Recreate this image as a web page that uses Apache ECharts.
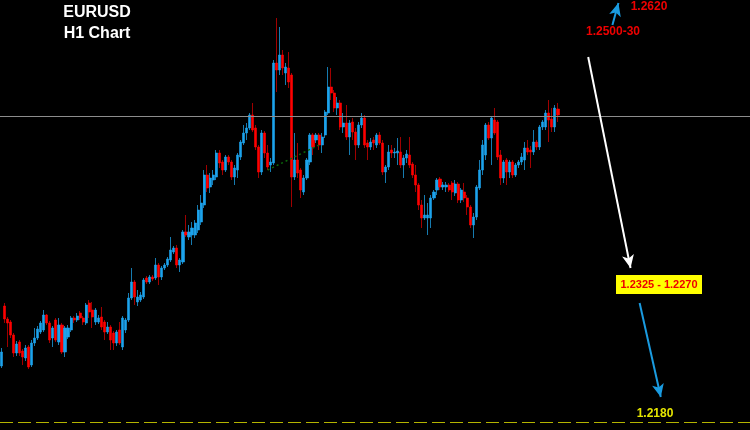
<!DOCTYPE html>
<html><head><meta charset="utf-8">
<script src="https://cdn.jsdelivr.net/npm/echarts@6/dist/echarts.min.js"></script>
<style>html,body{margin:0;padding:0;background:#000;}#c{width:750px;height:430px;}</style>
</head><body><div id="c"></div>
<script>
const chartTitle = 'EURUSD';
const chartSubtitle = 'H1 Chart';
const open = [
1.2236,1.2296,1.2283,1.2280,1.2267,1.2249,1.2260,1.2251,1.2244,1.2255,
1.2237,1.2259,1.2264,1.2270,1.2272,1.2287,1.2279,1.2264,1.2282,1.2260,
1.2277,1.2250,1.2265,1.2272,1.2284,1.2282,1.2289,1.2284,1.2279,1.2299,
1.2292,1.2280,1.2280,1.2285,1.2280,1.2270,1.2275,1.2269,1.2259,1.2272,
1.2255,1.2272,1.2282,1.2304,1.2320,1.2300,1.2302,1.2305,1.2324,1.2320,
1.2325,1.2324,1.2337,1.2325,1.2334,1.2337,1.2342,1.2350,1.2354,1.2337,
1.2340,1.2370,1.2365,1.2367,1.2367,1.2372,1.2380,1.2397,1.2427,1.2415,
1.2422,1.2425,1.2449,1.2440,1.2432,1.2445,1.2440,1.2425,1.2432,1.2445,
1.2459,1.2469,1.2474,1.2487,1.2474,1.2455,1.2430,1.2469,1.2449,1.2437,
1.2439,1.2539,1.2532,1.2547,1.2529,1.2534,1.2527,1.2425,1.2442,1.2432,
1.2410,1.2424,1.2440,1.2467,1.2462,1.2467,1.2457,1.2467,1.2489,1.2515,
1.2509,1.2494,1.2499,1.2475,1.2479,1.2465,1.2480,1.2470,1.2457,1.2477,
1.2484,1.2459,1.2455,1.2462,1.2457,1.2467,1.2459,1.2430,1.2435,1.2452,
1.2449,1.2449,1.2450,1.2437,1.2444,1.2447,1.2438,1.2427,1.2417,1.2397,
1.2384,1.2384,1.2384,1.2404,1.2412,1.2423,1.2415,1.2415,1.2417,1.2419,
1.2409,1.2418,1.2402,1.2410,1.2404,1.2395,1.2377,1.2385,1.2414,1.2432,
1.2447,1.2477,1.2464,1.2482,1.2480,1.2447,1.2424,1.2442,1.2430,1.2440,
1.2427,1.2437,1.2440,1.2442,1.2454,1.2452,1.2450,1.2460,1.2455,1.2475,
1.2475,1.2489,1.2483,1.2475,1.2493];
const close = [
1.2250,1.2283,1.2279,1.2267,1.2249,1.2258,1.2249,1.2245,1.2254,1.2235,
1.2259,1.2264,1.2273,1.2279,1.2287,1.2279,1.2262,1.2274,1.2262,1.2277,
1.2250,1.2274,1.2274,1.2284,1.2282,1.2286,1.2284,1.2280,1.2297,1.2290,
1.2285,1.2292,1.2284,1.2275,1.2270,1.2275,1.2262,1.2259,1.2270,1.2259,
1.2284,1.2282,1.2304,1.2320,1.2305,1.2305,1.2307,1.2322,1.2320,1.2325,
1.2323,1.2337,1.2325,1.2334,1.2337,1.2343,1.2352,1.2354,1.2337,1.2342,
1.2370,1.2367,1.2370,1.2374,1.2379,1.2392,1.2399,1.2427,1.2414,1.2424,
1.2427,1.2449,1.2439,1.2432,1.2445,1.2440,1.2425,1.2434,1.2447,1.2460,
1.2469,1.2474,1.2487,1.2472,1.2455,1.2430,1.2469,1.2449,1.2435,1.2440,
1.2539,1.2532,1.2547,1.2534,1.2535,1.2520,1.2425,1.2442,1.2429,1.2412,
1.2424,1.2442,1.2467,1.2455,1.2467,1.2457,1.2465,1.2490,1.2515,1.2509,
1.2494,1.2499,1.2475,1.2479,1.2465,1.2479,1.2470,1.2457,1.2477,1.2484,
1.2457,1.2455,1.2460,1.2459,1.2467,1.2459,1.2430,1.2435,1.2450,1.2449,
1.2450,1.2451,1.2437,1.2444,1.2448,1.2437,1.2427,1.2417,1.2397,1.2384,
1.2387,1.2387,1.2404,1.2410,1.2422,1.2415,1.2417,1.2417,1.2412,1.2410,
1.2418,1.2402,1.2412,1.2404,1.2395,1.2377,1.2385,1.2415,1.2432,1.2457,
1.2477,1.2464,1.2484,1.2469,1.2445,1.2424,1.2440,1.2430,1.2440,1.2427,
1.2437,1.2440,1.2445,1.2454,1.2450,1.2450,1.2460,1.2455,1.2475,1.2480,
1.2489,1.2482,1.2475,1.2494,1.2487];
const high = [
1.2254,1.2299,1.2285,1.2282,1.2269,1.2261,1.2262,1.2253,1.2257,1.2257,
1.2262,1.2274,1.2276,1.2281,1.2292,1.2288,1.2281,1.2276,1.2284,1.2284,
1.2279,1.2276,1.2277,1.2286,1.2286,1.2289,1.2291,1.2286,1.2299,1.2302,
1.2300,1.2294,1.2287,1.2295,1.2282,1.2280,1.2277,1.2271,1.2272,1.2280,
1.2286,1.2284,1.2309,1.2334,1.2322,1.2312,1.2310,1.2324,1.2326,1.2327,
1.2327,1.2344,1.2339,1.2336,1.2339,1.2345,1.2365,1.2356,1.2357,1.2344,
1.2372,1.2387,1.2377,1.2380,1.2382,1.2397,1.2407,1.2432,1.2437,1.2429,
1.2432,1.2452,1.2452,1.2442,1.2447,1.2447,1.2442,1.2437,1.2449,1.2462,
1.2477,1.2479,1.2489,1.2499,1.2477,1.2457,1.2472,1.2471,1.2457,1.2444,
1.2542,1.2584,1.2575,1.2552,1.2539,1.2550,1.2529,1.2469,1.2459,1.2434,
1.2427,1.2444,1.2469,1.2469,1.2469,1.2469,1.2469,1.2492,1.2535,1.2534,
1.2512,1.2505,1.2502,1.2489,1.2497,1.2482,1.2484,1.2474,1.2480,1.2489,
1.2487,1.2462,1.2464,1.2465,1.2469,1.2470,1.2462,1.2437,1.2457,1.2457,
1.2454,1.2464,1.2465,1.2447,1.2452,1.2465,1.2440,1.2437,1.2419,1.2402,
1.2407,1.2399,1.2407,1.2412,1.2424,1.2425,1.2420,1.2420,1.2419,1.2421,
1.2422,1.2420,1.2414,1.2419,1.2407,1.2397,1.2389,1.2417,1.2442,1.2462,
1.2479,1.2480,1.2486,1.2494,1.2482,1.2452,1.2442,1.2444,1.2442,1.2442,
1.2439,1.2442,1.2449,1.2460,1.2462,1.2456,1.2472,1.2462,1.2477,1.2482,
1.2492,1.2502,1.2494,1.2497,1.2499];
const low = [
1.2234,1.2279,1.2255,1.2264,1.2245,1.2246,1.2246,1.2237,1.2241,1.2233,
1.2235,1.2256,1.2262,1.2268,1.2270,1.2277,1.2259,1.2255,1.2260,1.2257,
1.2248,1.2245,1.2263,1.2270,1.2279,1.2280,1.2282,1.2277,1.2277,1.2284,
1.2274,1.2277,1.2278,1.2272,1.2262,1.2268,1.2252,1.2252,1.2256,1.2257,
1.2252,1.2269,1.2280,1.2302,1.2297,1.2296,1.2300,1.2303,1.2318,1.2318,
1.2321,1.2322,1.2317,1.2322,1.2332,1.2335,1.2340,1.2348,1.2334,1.2330,
1.2338,1.2365,1.2362,1.2357,1.2364,1.2369,1.2377,1.2394,1.2410,1.2409,
1.2417,1.2422,1.2434,1.2427,1.2430,1.2437,1.2422,1.2417,1.2424,1.2442,
1.2457,1.2462,1.2472,1.2470,1.2452,1.2424,1.2427,1.2444,1.2432,1.2430,
1.2437,1.2510,1.2527,1.2527,1.2517,1.2514,1.2395,1.2422,1.2424,1.2404,
1.2407,1.2422,1.2437,1.2447,1.2459,1.2452,1.2449,1.2464,1.2487,1.2502,
1.2490,1.2487,1.2472,1.2469,1.2462,1.2447,1.2462,1.2442,1.2454,1.2474,
1.2454,1.2442,1.2452,1.2452,1.2454,1.2457,1.2427,1.2419,1.2432,1.2444,
1.2444,1.2437,1.2434,1.2424,1.2439,1.2434,1.2424,1.2410,1.2392,1.2374,
1.2382,1.2367,1.2374,1.2402,1.2407,1.2412,1.2412,1.2410,1.2410,1.2402,
1.2406,1.2399,1.2399,1.2400,1.2387,1.2374,1.2364,1.2382,1.2412,1.2427,
1.2442,1.2462,1.2437,1.2467,1.2442,1.2417,1.2419,1.2417,1.2424,1.2424,
1.2425,1.2434,1.2437,1.2432,1.2447,1.2434,1.2447,1.2452,1.2452,1.2472,
1.2472,1.2460,1.2470,1.2470,1.2480];
const slotCount = 248;                 // hourly slots incl. empty space to the right
const resistanceLevel = 1.2486;        // grey horizontal line
const targetLevel = 1.2180;            // yellow dashed line
const trendLine = [[88, 1.2432], [105, 1.2457]];
const arrowDown1 = [[194, 1.2545], [208, 1.2334]];
const arrowDown2 = [[211, 1.2299], [218, 1.2205]];
const arrowUp = [[202, 1.2577], [204, 1.2599]];
const annotationTexts = ['1.2620', '1.2500-30', '1.2325 - 1.2270', '1.2180'];

const categories = Array.from({length: slotCount}, (_, i) => 'h' + i);
const wickData = open.map((o, i) => [o, close[i], low[i], high[i]]);
const bodyData = open.map((o, i) => [o, close[i], Math.min(o, close[i]), Math.max(o, close[i])]);

const BLUE = '#1ca3ec', RED = '#ff0000';
const chart = echarts.init(document.getElementById('c'));
function arrow(pair, color, width) {
  return [
    {coord: pair[0], symbol: 'none', lineStyle: {color: color, width: width, type: 'solid'}},
    {coord: pair[1], symbol: 'arrow', symbolSize: [9, 13]}
  ];
}
chart.setOption({
  backgroundColor: '#000000',
  animation: false,
  grid: {left: 0, right: 0, top: 0, bottom: 0},
  xAxis: {type: 'category', data: categories, show: false, boundaryGap: true},
  yAxis: {type: 'value', min: 1.2172, max: 1.2602, show: false, splitLine: {show: false}},
  series: [
    {
      type: 'candlestick', name: 'wick', data: wickData, barWidth: 1,
      itemStyle: {color: '#167bb0', color0: '#a00000', borderColor: '#167bb0', borderColor0: '#a00000', borderWidth: 1}
    },
    {
      type: 'candlestick', name: 'body', data: bodyData, barWidth: 2.6,
      itemStyle: {color: BLUE, color0: RED, borderColor: BLUE, borderColor0: RED, borderWidth: 0.6}
    },
    {
      type: 'line', data: [], silent: true,
      markLine: {
        silent: true, symbol: ['none', 'none'], label: {show: false},
        data: [
          [{yAxis: resistanceLevel, x: 0, lineStyle: {color: '#8c8c8c', width: 1, type: 'solid'}}, {yAxis: resistanceLevel, x: 750}],
          [{yAxis: targetLevel, x: 0, lineStyle: {color: '#b4b400', width: 1.2, type: [13, 5]}}, {yAxis: targetLevel, x: 750}],
          [{coord: trendLine[0], lineStyle: {color: '#0b6a0b', width: 1.5, type: [2, 3]}}, {coord: trendLine[1]}],
          arrow(arrowDown1, '#ffffff', 2),
          arrow(arrowDown2, '#1a9be0', 2),
          arrow(arrowUp, '#1a9be0', 2)
        ]
      }
    }
  ],
  graphic: [
    {type: 'text', x: 97, y: 13, style: {text: chartTitle, fill: '#ffffff', font: 'bold 16px "Liberation Sans", Arial, sans-serif', align: 'center', verticalAlign: 'middle'}},
    {type: 'text', x: 97, y: 34, style: {text: chartSubtitle, fill: '#ffffff', font: 'bold 16px "Liberation Sans", Arial, sans-serif', align: 'center', verticalAlign: 'middle'}},
    {type: 'text', x: 649, y: 7, style: {text: annotationTexts[0], fill: '#ee0000', font: 'bold 12px "Liberation Sans", Arial, sans-serif', align: 'center', verticalAlign: 'middle'}},
    {type: 'text', x: 613, y: 32, style: {text: annotationTexts[1], fill: '#ee0000', font: 'bold 12px "Liberation Sans", Arial, sans-serif', align: 'center', verticalAlign: 'middle'}},
    {type: 'rect', shape: {x: 616, y: 275, width: 86, height: 19}, style: {fill: '#ffff00'}},
    {type: 'text', x: 659, y: 285, style: {text: annotationTexts[2], fill: '#ee0000', font: 'bold 11px "Liberation Sans", Arial, sans-serif', align: 'center', verticalAlign: 'middle'}},
    {type: 'text', x: 655, y: 414, style: {text: annotationTexts[3], fill: '#e6e600', font: 'bold 12px "Liberation Sans", Arial, sans-serif', align: 'center', verticalAlign: 'middle'}}
  ]
});
</script></body></html>
